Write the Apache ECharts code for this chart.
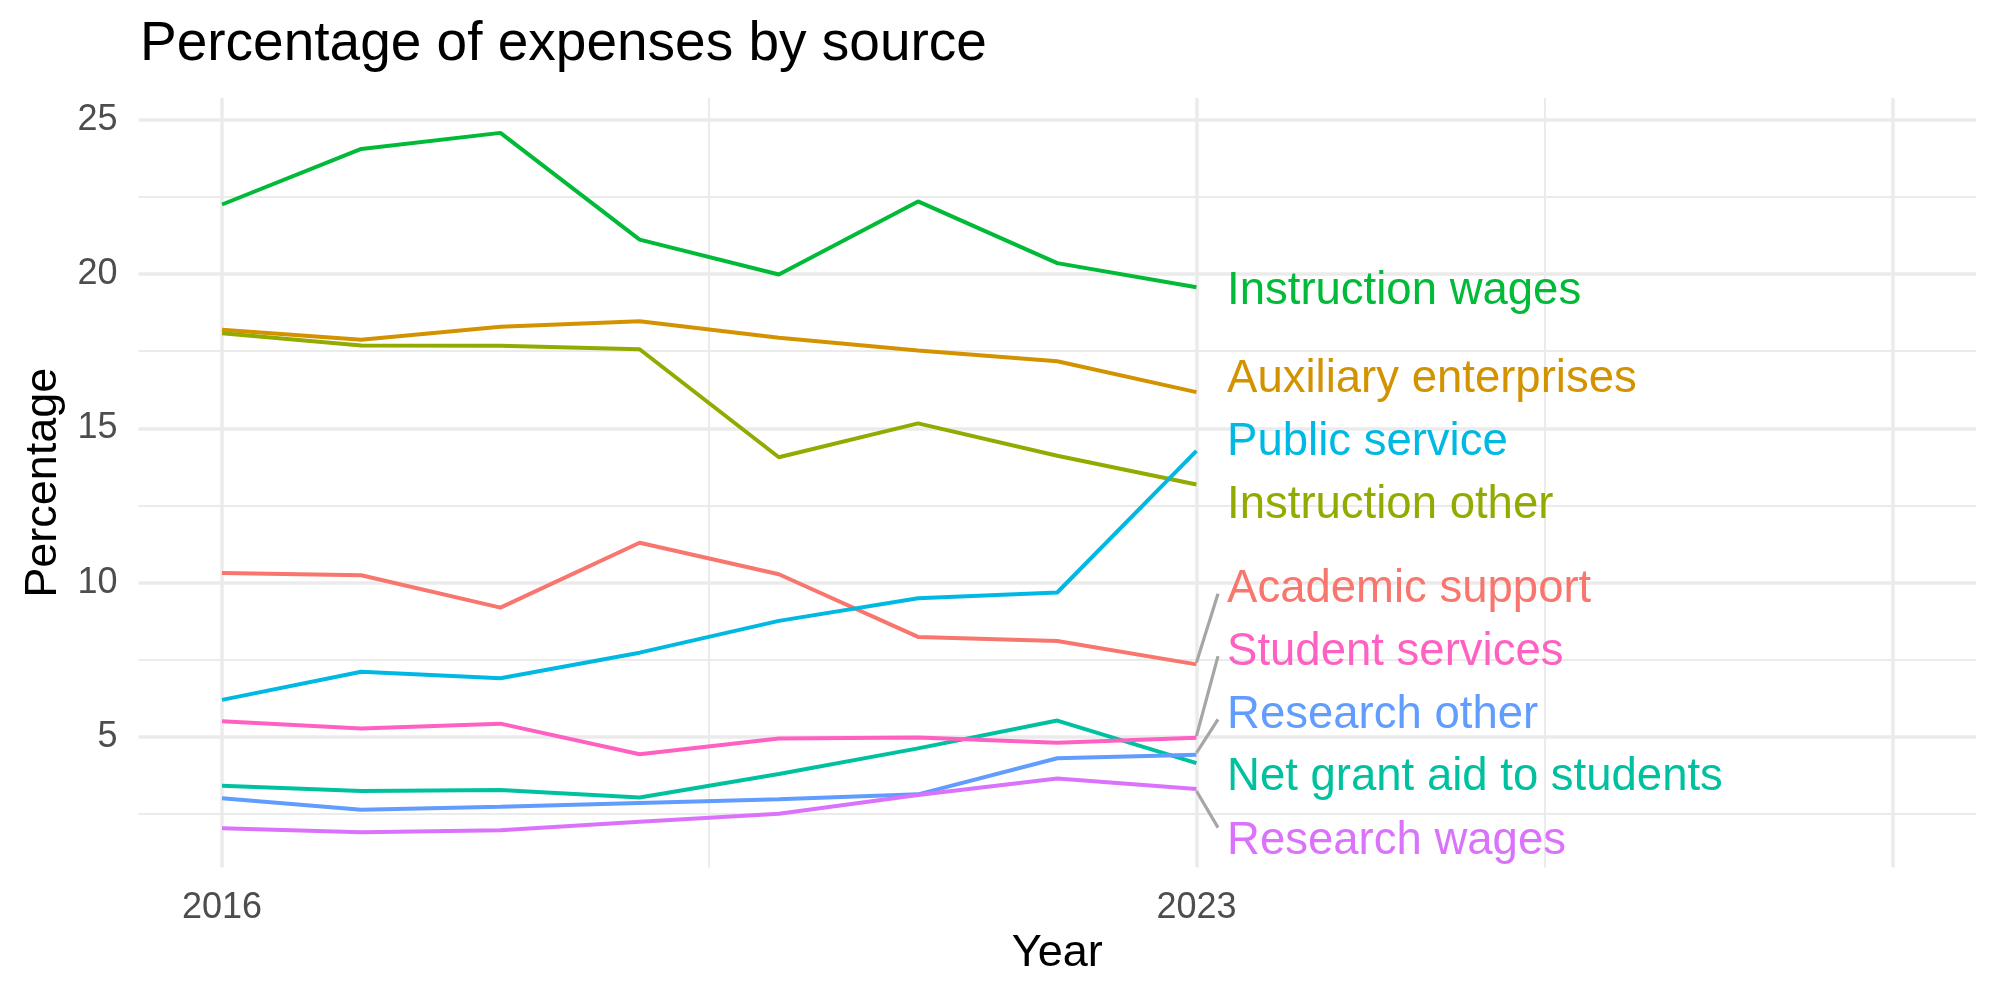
<!DOCTYPE html>
<html>
<head>
<meta charset="utf-8">
<script src="https://cdn.jsdelivr.net/npm/echarts@6/dist/echarts.min.js"></script>
<style>
html,body{margin:0;padding:0;background:#fff;}
#chart{width:2000px;height:1000px;}
</style>
</head>
<body>
<div id="chart"></div>
<script>
// ---- data ----
const years = [2016, 2017, 2018, 2019, 2020, 2021, 2022, 2023];
const seriesNames = [
  "Academic support", "Auxiliary enterprises", "Instruction other", "Instruction wages",
  "Net grant aid to students", "Public service", "Research other", "Research wages", "Student services"
];
const academicSupport      = [10.31, 10.24, 9.19, 11.29, 10.27, 8.24, 8.11, 7.35];
const auxiliaryEnterprises = [18.19, 17.87, 18.29, 18.47, 17.93, 17.52, 17.17, 16.17];
const instructionOther     = [18.08, 17.68, 17.67, 17.56, 14.06, 15.16, 14.11, 13.18];
const instructionWages     = [22.25, 24.05, 24.57, 21.11, 19.98, 22.35, 20.35, 19.57];
const netGrantAid          = [3.42, 3.25, 3.28, 3.04, 3.80, 4.63, 5.53, 4.15];
const publicService        = [6.20, 7.11, 6.90, 7.73, 8.76, 9.49, 9.68, 14.27];
const researchOther        = [3.01, 2.64, 2.74, 2.86, 2.98, 3.14, 4.31, 4.42];
const researchWages        = [2.04, 1.91, 1.98, 2.25, 2.51, 3.12, 3.65, 3.31];
const studentServices      = [5.51, 5.27, 5.43, 4.44, 4.95, 4.98, 4.81, 4.97];
// repelled label heights (data units) at the right end
const labelY = [9.86, 16.67, 12.61, 19.53, 3.77, 14.65, 5.79, 1.70, 7.84];
const xTickLabels = [2016, 2023];
const yTickLabels = [5, 10, 15, 20, 25];
const xMajorGrid = [2016, 2023, 2028];
const xMinorGrid = [2019.5, 2025.5];
const yMajorGrid = [5, 10, 15, 20, 25];
const yMinorGrid = [2.5, 7.5, 12.5, 17.5, 22.5];

const values = [academicSupport, auxiliaryEnterprises, instructionOther, instructionWages,
  netGrantAid, publicService, researchOther, researchWages, studentServices];
const colors = ["#F8766D", "#D39200", "#93AA00", "#00BA38", "#00C19F", "#00B9E3", "#619CFF", "#DB72FB", "#FF61C3"];

const FONT = "Liberation Sans, Arial, Helvetica, sans-serif";
const chart = echarts.init(document.getElementById('chart'), null, {renderer: 'canvas'});

const series = [];
// gridlines via markLine
const gl = (arr, axis, w) => arr.map(v => ({[axis]: v, lineStyle: {color: '#EBEBEB', width: w, type: 'solid'}}));
series.push({
  type: 'line', data: [], silent: true, z: 0,
  markLine: {
    silent: true, z: 0, symbol: ['none', 'none'], label: {show: false}, animation: false,
    emphasis: {disabled: true},
    data: [].concat(gl(yMinorGrid, 'yAxis', 2), gl(xMinorGrid, 'xAxis', 2),
                    gl(yMajorGrid, 'yAxis', 3.5), gl(xMajorGrid, 'xAxis', 3.5))
  }
});

seriesNames.forEach((name, i) => {
  series.push({
    name: name, type: 'line', showSymbol: false, symbol: 'none', z: 3,
    data: years.map((y, j) => [y, values[i][j]]),
    lineStyle: {color: colors[i], width: 4},
    animation: false
  });
});

// connector segments
seriesNames.forEach((name, i) => {
  const end = values[i][values[i].length - 1];
  const d = labelY[i] - end;
  if (Math.abs(d) > 1) {
    const dir = d > 0 ? 1 : -1;
    series.push({
      type: 'line', showSymbol: false, symbol: 'none', z: 2, silent: true,
      data: [[2023.0, end + dir * 0.06], [2023.155, labelY[i] - (dir > 0 ? 0.22 : -0.36)]],
      lineStyle: {color: '#A6A6A6', width: 3.2},
      animation: false
    });
  }
});

// labels
series.push({
  type: 'scatter', symbolSize: 0, z: 4, silent: true, animation: false,
  itemStyle: {opacity: 1},
  data: seriesNames.map((name, i) => ({
    value: [2023.22, labelY[i]], name: name,
    itemStyle: {opacity: 1},
    label: {show: true, position: 'right', distance: 0, offset: [0, 3], formatter: name,
            color: colors[i], fontSize: 45.5, fontFamily: FONT, opacity: 1}
  }))
});

chart.setOption({
  animation: false,
  backgroundColor: '#fff',
  title: {
    text: 'Percentage of expenses by source', left: 135, top: 12,
    textStyle: {fontSize: 55, fontWeight: 'normal', color: '#000', fontFamily: FONT}
  },
  grid: {left: 138.5, right: 24, top: 98, bottom: 132.5, containLabel: false},
  xAxis: {
    type: 'value', min: 2015.4, max: 2028.6,
    name: 'Year', nameLocation: 'middle', nameGap: 64,
    nameTextStyle: {fontSize: 45, color: '#000', fontFamily: FONT},
    axisLine: {show: false}, axisTick: {show: false},
    splitLine: {show: false},
    axisLabel: {customValues: xTickLabels, fontSize: 36, color: '#4D4D4D', margin: 23, fontFamily: FONT,
                formatter: v => String(v)}
  },
  yAxis: {
    type: 'value', min: 0.77, max: 25.7,
    name: 'Percentage', nameLocation: 'middle', nameGap: 72, nameRotate: 90,
    nameTextStyle: {fontSize: 45, color: '#000', fontFamily: FONT},
    axisLine: {show: false}, axisTick: {show: false},
    splitLine: {show: false},
    axisLabel: {customValues: yTickLabels, fontSize: 36, color: '#4D4D4D', margin: 21, fontFamily: FONT,
                formatter: v => String(v)}
  },
  series: series
});
</script>
</body>
</html>
